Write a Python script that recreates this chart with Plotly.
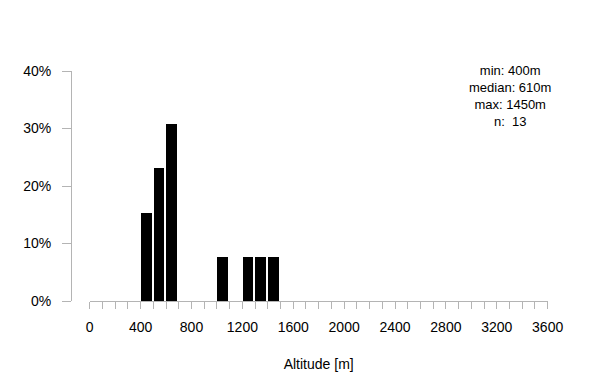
import plotly.graph_objects as go

# Histogram data (bin left edges in metres, counts per 100 m bin)
bin_starts = [400, 500, 600, 1000, 1200, 1300, 1400]
counts = [2, 3, 4, 1, 1, 1, 1]
n_total = 13
stats_lines = ["min: 400m", "median: 610m", "max: 1450m", "n:  13"]
x_tick_vals = list(range(0, 3601, 100))
x_tick_text = [str(v) if v % 400 == 0 else "" for v in x_tick_vals]
y_tick_vals = [0, 0.1, 0.2, 0.3, 0.4]

shares = [c / n_total for c in counts]

FONT = "Liberation Sans, Arial, Helvetica, sans-serif"
GRAY = "#b4b4b4"

fig = go.Figure()
fig.add_trace(go.Bar(
    x=bin_starts, y=shares, width=84, offset=0,
    marker=dict(color="black", line=dict(width=0)),
    xaxis="x", yaxis="y", showlegend=False,
))

W, H = 600, 390
ml, mr, mt, mb = 71, 40, 71, 89
pw = W - ml - mr
x0_px, x1_px = 89.7, 547.7
dom0 = (x0_px - ml) / pw
dom1 = (x1_px - ml) / pw

fig.update_layout(
    width=W, height=H,
    margin=dict(l=ml, r=mr, t=mt, b=mb, autoexpand=False),
    paper_bgcolor="white", plot_bgcolor="white",
    font=dict(family=FONT, size=14, color="black"),
    bargap=0,
    xaxis=dict(
        domain=[dom0, dom1], range=[-0.5, 3600.5],
        tickmode="array", tickvals=x_tick_vals, ticktext=x_tick_text,
        ticks="outside", ticklen=7, tickcolor=GRAY, tickwidth=1,
        showline=True, linecolor=GRAY, linewidth=1,
        showgrid=False, zeroline=False,
        ticklabelstandoff=6,
        title=dict(text="Altitude [m]", standoff=25, font=dict(size=14)),
        tickfont=dict(size=14),
    ),
    yaxis=dict(
        anchor="free", position=0,
        range=[0, 0.4], tickmode="array", tickvals=y_tick_vals,
        tickformat=".0%",
        ticks="outside", ticklen=9, tickcolor=GRAY, tickwidth=1,
        showline=True, linecolor=GRAY, linewidth=1,
        showgrid=False, zeroline=False,
        ticklabelstandoff=8,
        tickfont=dict(size=14),
    ),
)

ph = H - mt - mb
center_px = 96
fig.add_annotation(
    text="<br>".join(stats_lines), xref="paper", yref="paper",
    x=(510 - ml) / pw, y=(H - mb - center_px) / ph,
    xanchor="center", yanchor="middle", align="center", showarrow=False,
    borderpad=0,
    font=dict(family=FONT, size=13, color="black"),
)

fig.write_html("out.html")
